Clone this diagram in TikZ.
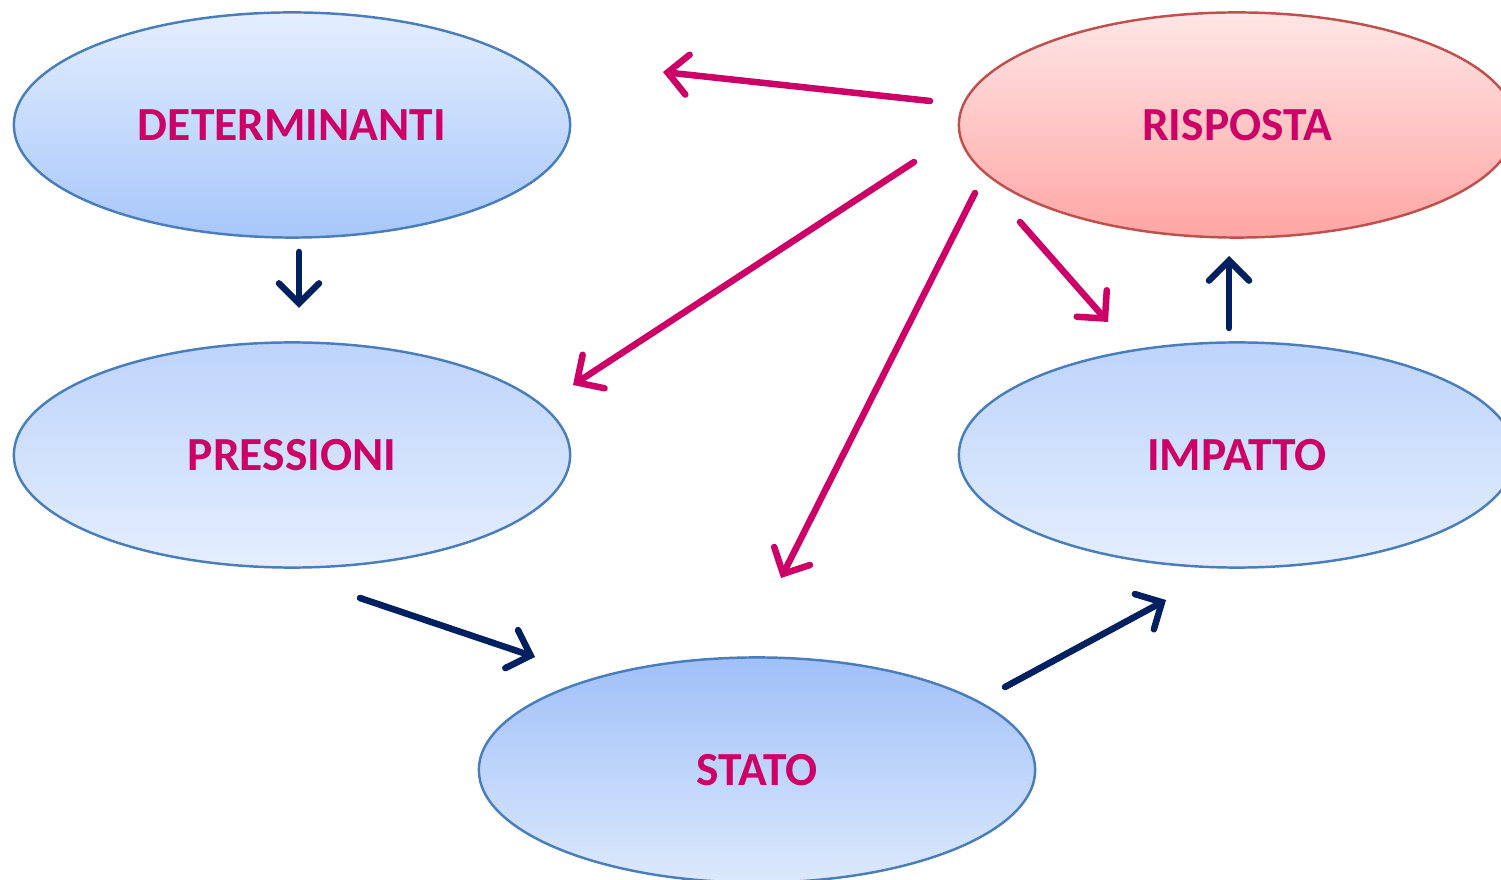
\documentclass[tikz,border=0pt]{standalone}
\usepackage{fontspec}
\setmainfont{Carlito}
\usepackage{tikz}
\usetikzlibrary{shapes.geometric,arrows.meta}

\definecolor{testo}{HTML}{CC0066}
\definecolor{blu}{HTML}{002060}
\definecolor{bordoblu}{HTML}{4A7EBB}
\definecolor{bordorosso}{HTML}{C0504D}

\tikzset{
  fase/.style = {ellipse, draw = bordoblu, line width = 0.7pt, inner sep = 0pt,
                 minimum width = 5.56cm, minimum height = 2.25cm,
                 text = testo, font = \fontsize{13.5}{16}\selectfont\bfseries},
  freccia/.style = {line width = 0.065cm, line cap = round,
                    -{Straight Barb[length = 0.2cm, width = 0.4cm, line cap = round]}},
}

\begin{document}
\begin{tikzpicture}[x = 0.01cm, y = -0.01cm]
            \useasboundingbox (0,0) rectangle (1501,880);
            \clip (0,0) rectangle (1501,880);
            % ellissi
            \node[fase, top color = {rgb,255:red,228;green,238;blue,255}, bottom color = {rgb,255:red,167;green,199;blue,250}] (det) at (292,125) {DETERMINANTI};
            \node[fase, top color = {rgb,255:red,190;green,212;blue,251}, bottom color = {rgb,255:red,228;green,238;blue,254}] (pre) at (292,455) {PRESSIONI};
            \node[fase, top color = {rgb,255:red,160;green,192;blue,248}, bottom color = {rgb,255:red,220;green,233;blue,253}] (sta) at (757,770) {STATO};
            \node[fase, top color = {rgb,255:red,190;green,212;blue,251}, bottom color = {rgb,255:red,228;green,238;blue,254}] (imp) at (1237,455) {IMPATTO};
            \node[fase, draw = bordorosso, top color = {rgb,255:red,255;green,230;blue,230}, bottom color = {rgb,255:red,255;green,166;blue,164}] (ris) at (1237,125) {RISPOSTA};
            % estremi delle frecce
            \coordinate (r1) at (930,101);  \coordinate (d1) at (663,72);
            \coordinate (r2) at (914,162);  \coordinate (p1) at (573,385);
            \coordinate (r3) at (975,193);  \coordinate (s1) at (781,578);
            \coordinate (r4) at (1020,222); \coordinate (i1) at (1108,322);
            \coordinate (d2) at (299,252);  \coordinate (p2) at (299,308);
            \coordinate (p3) at (360,598);  \coordinate (s2) at (535,657);
            \coordinate (s3) at (1005,687); \coordinate (i2) at (1166,600);
            \coordinate (i3) at (1229,328); \coordinate (r5) at (1229,256);
            % frecce della risposta
            \draw[freccia, testo] (r1) -- (d1);
            \draw[freccia, testo] (r2) -- (p1);
            \draw[freccia, testo] (r3) -- (s1);
            \draw[freccia, testo] (r4) -- (i1);
            % catena
            \draw[freccia, blu] (d2) -- (p2);
            \draw[freccia, blu] (p3) -- (s2);
            \draw[freccia, blu] (s3) -- (i2);
            \draw[freccia, blu] (i3) -- (r5);
\end{tikzpicture}
\end{document}
